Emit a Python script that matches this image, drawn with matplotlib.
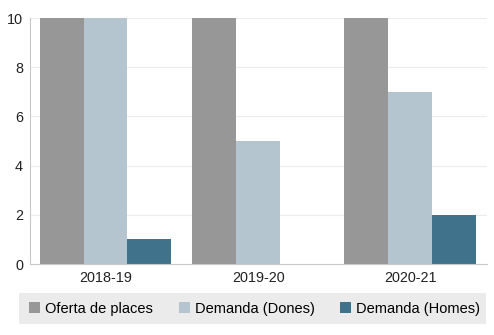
import matplotlib.pyplot as plt
from matplotlib.patches import Patch, Rectangle
import numpy as np

plt.rcParams['font.family'] = ['Liberation Sans', 'DejaVu Sans']

# data (values above 10 are clipped by the axis)
years = ["2018-19", "2019-20", "2020-21"]
oferta = [10, 10, 10]
dones = [10, 5, 7]
homes = [1, 0, 2]

series_names = ["Oferta de places", "Demanda (Dones)", "Demanda (Homes)"]
colors = ["#979797", "#b4c5cf", "#41728c"]

W, H = 494, 335
fig = plt.figure(figsize=(W / 100, H / 100), dpi=100)
ax = fig.add_axes([30 / W, 71 / H, 457 / W, 246 / H])

x = np.arange(len(years))
w = 0.287
for i, vals in enumerate([oferta, dones, homes]):
    ax.bar(x + (i - 1) * w - 0.005, vals, w, color=colors[i], zorder=2)

ax.set_xlim(-0.5, len(years) - 0.5)
ax.set_ylim(0, 10)
ax.set_yticks([0, 2, 4, 6, 8, 10])
ax.set_xticks(x)
ax.set_xticklabels(years)
ax.tick_params(length=0, labelsize=10.4, colors="#222222", pad=5)
ax.yaxis.grid(True, color="#ececec", linewidth=0.8, zorder=0)

for s in ["top", "right"]:
    ax.spines[s].set_visible(False)
ax.spines["left"].set_color("#c8c8c8")
ax.spines["bottom"].set_color("#c8c8c8")

# grey legend band at the bottom
fig.patches.append(Rectangle((19 / W, 11 / H), 467 / W, 31 / H,
                             transform=fig.transFigure, facecolor="#ebebeb",
                             edgecolor="none", zorder=0))

handles = [Patch(facecolor=c, edgecolor="none") for c in colors]
fig.legend(handles, series_names, loc="center left", ncol=3,
           bbox_to_anchor=(22 / W, 26.5 / H), frameon=False, fontsize=10.5,
           handlelength=0.75, handleheight=0.75, handletextpad=0.35,
           columnspacing=1.75, borderaxespad=0, borderpad=0.5)

fig.savefig("out.png", dpi=100)
